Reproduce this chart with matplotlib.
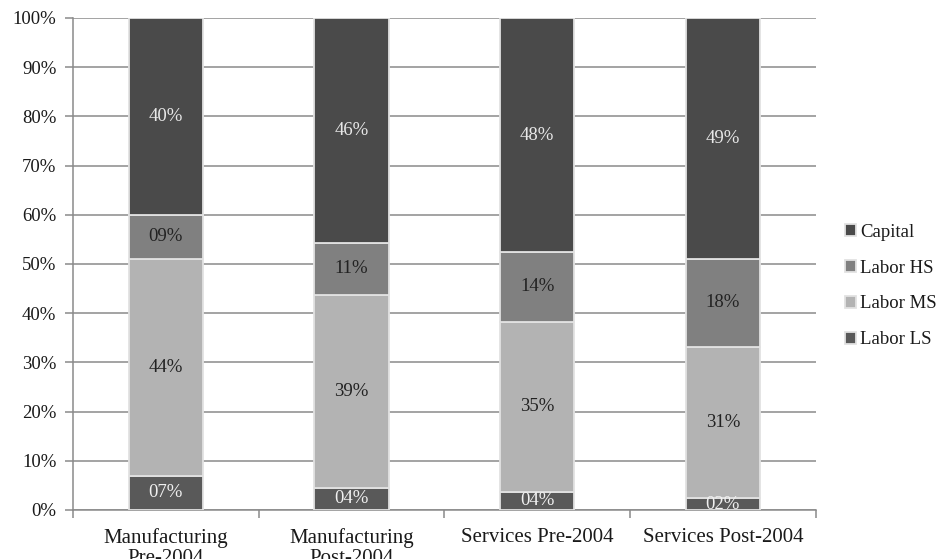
import matplotlib
matplotlib.use("Agg")
import matplotlib.pyplot as plt
import numpy as np

categories = ["Manufacturing\nPre-2004", "Manufacturing\nPost-2004",
              "Services Pre-2004", "Services Post-2004"]
labor_ls = [7.0, 4.5, 3.7, 2.4]
labor_ms = [44.0, 39.2, 34.6, 30.8]
labor_hs = [9.0, 10.6, 14.1, 17.9]
capital = [40.0, 45.7, 47.6, 48.9]

series_names = ["Labor LS", "Labor MS", "Labor HS", "Capital"]
series_vals = [labor_ls, labor_ms, labor_hs, capital]
colors = ["#595959", "#b3b3b3", "#808080", "#4a4a4a"]
text_colors = ["#f0f0f0", "#222222", "#222222", "#e8e8e8"]

plt.rcParams['font.family'] = ['Liberation Serif', 'DejaVu Serif']

fig = plt.figure(figsize=(9.42, 5.59), dpi=100)
ax = fig.add_axes([0.0775, 0.0877, 0.7885, 0.8803])

x = np.arange(len(categories))
bottom = np.zeros(len(categories))
handles = []
for name, vals, c, tc in zip(series_names, series_vals, colors, text_colors):
    vals = np.array(vals)
    bars = ax.bar(x, vals, width=0.40, bottom=bottom, color=c,
                  edgecolor="#e2e2e2", linewidth=1.3, label=name, zorder=3)
    handles.append(bars)
    for xi, b, v in zip(x, bottom, vals):
        ax.text(xi, b + v / 2, f"{int(round(v)):02d}%", ha="center", va="center",
                fontsize=13.5, color=tc, zorder=4, clip_on=True)
    bottom = bottom + vals

ax.set_xlim(-0.5, len(categories) - 0.5)
ax.set_ylim(0, 100)
ax.set_yticks(np.arange(0, 101, 10))
ax.set_yticklabels([f"{v}%" for v in range(0, 101, 10)], fontsize=13.5, color="#1a1a1a")
ax.yaxis.grid(True, color="#8a8a8a", linewidth=1.1, zorder=0)
ax.set_axisbelow(True)

ax.set_xticks(x)
ax.set_xticklabels(categories, fontsize=15, color="#1a1a1a", linespacing=1.05)
ax.tick_params(axis="x", which="major", length=0, pad=13)
ax.set_xticks(np.arange(-0.5, len(categories), 1.0), minor=True)
ax.tick_params(axis="x", which="minor", length=6, color="#8a8a8a", width=1.1)
ax.tick_params(axis="y", length=6, color="#8a8a8a", width=1.1, pad=6)

for s in ["top", "right"]:
    ax.spines[s].set_visible(False)
for s in ["left", "bottom"]:
    ax.spines[s].set_color("#8a8a8a")
    ax.spines[s].set_linewidth(1.1)

leg = ax.legend(handles[::-1], series_names[::-1], loc="center left",
                bbox_to_anchor=(1.022, 0.455), frameon=False, fontsize=13.5,
                handlelength=0.6, handleheight=0.6, handletextpad=0.2,
                labelspacing=1.0, borderaxespad=0.3)
for t in leg.get_texts():
    t.set_color("#1a1a1a")

fig.savefig("out.png", dpi=100)
